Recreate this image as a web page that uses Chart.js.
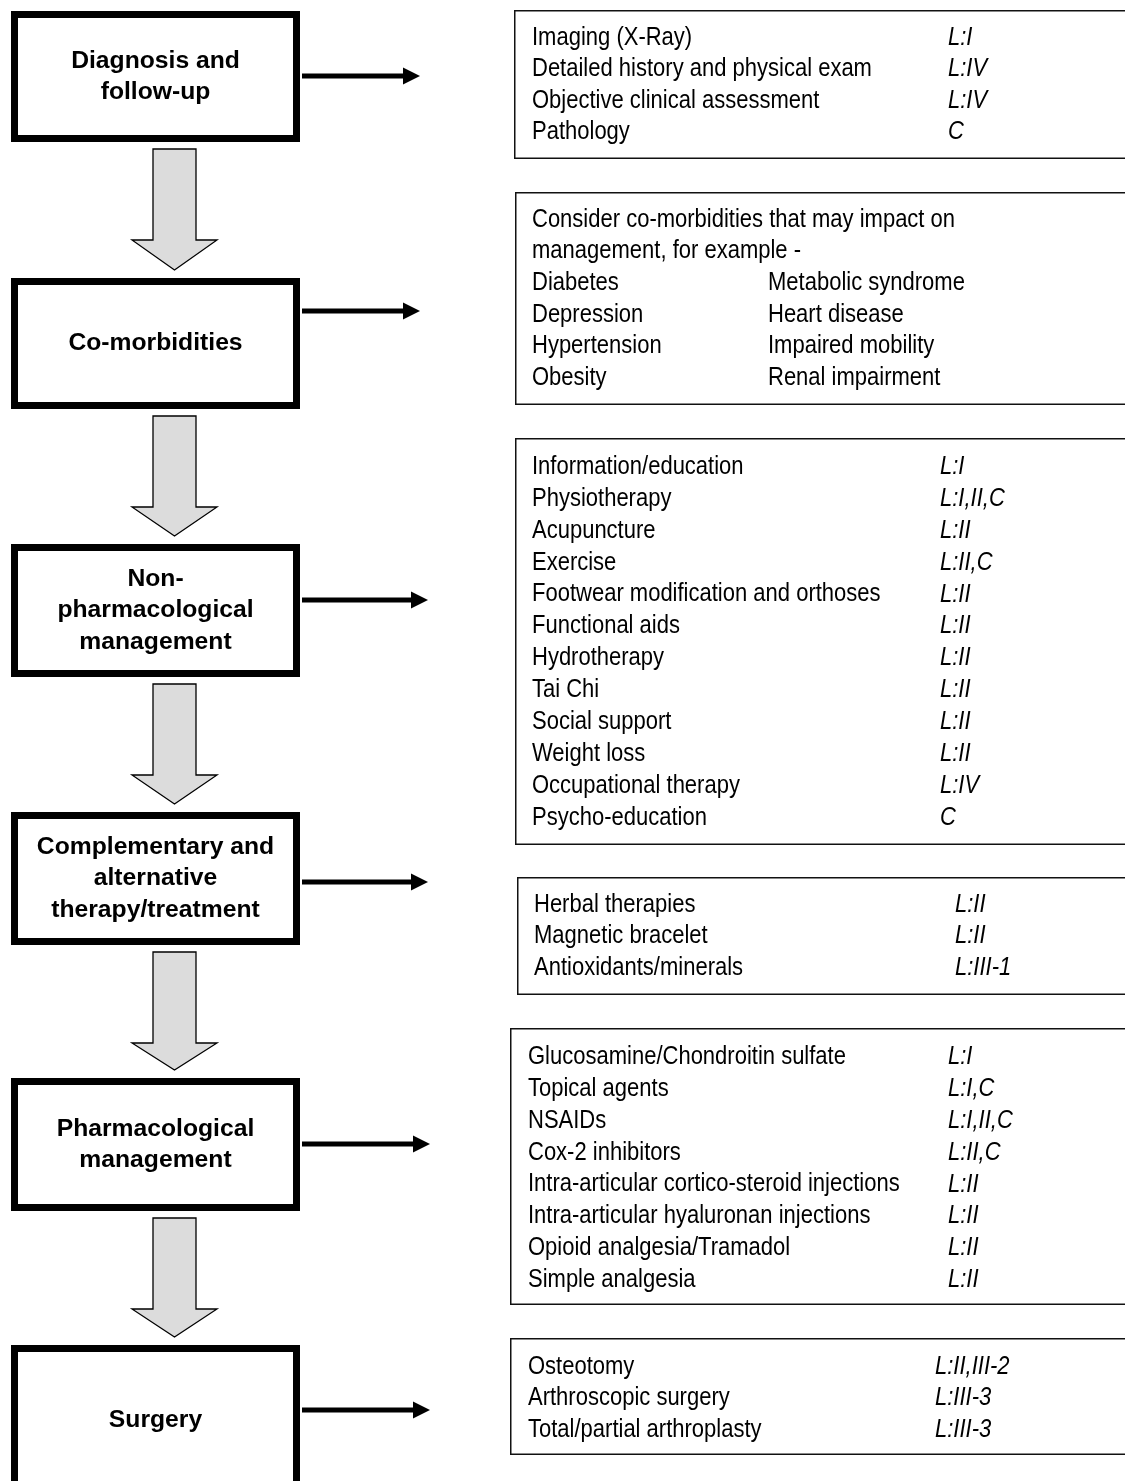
<!DOCTYPE html>
<html>
<head>
<meta charset="utf-8">
<script src="https://cdn.jsdelivr.net/npm/chart.js@4/dist/chart.umd.min.js"></script>
<style>
  html, body { margin: 0; padding: 0; background: #fff; }
  canvas { display: block; }
</style>
</head>
<body>
<canvas id="flow" width="1125" height="1481"></canvas>
<script>
// steps down the left side
var stepLabels = [
    ['Diagnosis and', 'follow-up'],
    ['Co-morbidities'],
    ['Non-', 'pharmacological', 'management'],
    ['Complementary and', 'alternative', 'therapy/treatment'],
    ['Pharmacological', 'management'],
    ['Surgery']
];

// what goes in each box on the right, with level of evidence
var diagnosisItems = ['Imaging (X-Ray)', 'Detailed history and physical exam', 'Objective clinical assessment', 'Pathology'];
var diagnosisLevels = ['L:I', 'L:IV', 'L:IV', 'C'];

var comorbidIntro = ['Consider co-morbidities that may impact on', 'management, for example -'];
var comorbidLeft = ['Diabetes', 'Depression', 'Hypertension', 'Obesity'];
var comorbidRight = ['Metabolic syndrome', 'Heart disease', 'Impaired mobility', 'Renal impairment'];

var nonPharmItems = ['Information/education', 'Physiotherapy', 'Acupuncture', 'Exercise',
    'Footwear modification and orthoses', 'Functional aids', 'Hydrotherapy', 'Tai Chi',
    'Social support', 'Weight loss', 'Occupational therapy', 'Psycho-education'];
var nonPharmLevels = ['L:I', 'L:I,II,C', 'L:II', 'L:II,C', 'L:II', 'L:II', 'L:II', 'L:II', 'L:II', 'L:II', 'L:IV', 'C'];

var camItems = ['Herbal therapies', 'Magnetic bracelet', 'Antioxidants/minerals'];
var camLevels = ['L:II', 'L:II', 'L:III-1'];

var pharmItems = ['Glucosamine/Chondroitin sulfate', 'Topical agents', 'NSAIDs', 'Cox-2 inhibitors',
    'Intra-articular cortico-steroid injections', 'Intra-articular hyaluronan injections',
    'Opioid analgesia/Tramadol', 'Simple analgesia'];
var pharmLevels = ['L:I', 'L:I,C', 'L:I,II,C', 'L:II,C', 'L:II', 'L:II', 'L:II', 'L:II'];

var surgeryItems = ['Osteotomy', 'Arthroscopic surgery', 'Total/partial arthroplasty'];
var surgeryLevels = ['L:II,III-2', 'L:III-3', 'L:III-3'];

// layout (page units, the chart axes run 0..1125 and 0..1481)
var stepTop = [11, 278, 544, 812, 1078, 1345];
var stepBottom = [142, 409, 677, 945, 1211, 1495];
var stepLeft = 11, stepRight = 300;
var arrowY = [76, 311, 600, 882, 1144, 1410];
var arrowTip = [420, 420, 428, 428, 430, 430];

var panels = [
    {top: 10, bottom: 159, left: 514, textX: 532, levelX: 948, firstY: 38, gap: 31.5, items: diagnosisItems, levels: diagnosisLevels},
    {top: 192, bottom: 405, left: 515, textX: 532, col2X: 768, firstY: 220, gap: 31.6},
    {top: 438, bottom: 845, left: 515, textX: 532, levelX: 940, firstY: 467, gap: 31.9, items: nonPharmItems, levels: nonPharmLevels},
    {top: 877, bottom: 995, left: 517, textX: 534, levelX: 955, firstY: 905, gap: 31.5, items: camItems, levels: camLevels},
    {top: 1028, bottom: 1305, left: 510, textX: 528, levelX: 948, firstY: 1057, gap: 31.9, items: pharmItems, levels: pharmLevels},
    {top: 1338, bottom: 1455, left: 510, textX: 528, levelX: 935, firstY: 1367, gap: 31.5, items: surgeryItems, levels: surgeryLevels}
];

var FONT = '"Liberation Sans", Arial, sans-serif';
var SQUEEZE = 0.88; // body text in the original is a bit narrow

function squeezedText(ctx, txt, x, y) {
    ctx.save();
    ctx.translate(x, y);
    ctx.scale(SQUEEZE, 1);
    ctx.fillText(txt, 0, 0);
    ctx.restore();
}

var flowPlugin = {
    id: 'flow',
    afterDraw: function(chart) {
        var ctx = chart.ctx;
        var sx = chart.scales.x, sy = chart.scales.y;
        var X = function(v) { return sx.getPixelForValue(v); };
        var Y = function(v) { return sy.getPixelForValue(v); };

        ctx.save();
        ctx.fillStyle = '#fff';
        ctx.fillRect(0, 0, chart.width, chart.height);

        // left boxes
        ctx.strokeStyle = '#000';
        ctx.lineWidth = 7;
        for (var i = 0; i < stepLabels.length; i++) {
            var l = X(stepLeft) + 3.5, t = Y(stepTop[i]) + 3.5;
            var r = X(stepRight) - 3.5, b = Y(stepBottom[i]) - 3.5;
            ctx.strokeRect(l, t, r - l, b - t);

            ctx.fillStyle = '#000';
            ctx.font = 'bold 24.7px ' + FONT;
            ctx.textAlign = 'center';
            ctx.textBaseline = 'middle';
            var lines = stepLabels[i];
            var mid = (Y(stepTop[i]) + Y(stepBottom[i])) / 2;
            var lh = 31.5;
            for (var k = 0; k < lines.length; k++) {
                var ly = mid + (k - (lines.length - 1) / 2) * lh;
                ctx.fillText(lines[k], X((stepLeft + stepRight) / 2), ly);
            }
        }

        // grey down arrows between the steps
        for (var i = 0; i < stepLabels.length - 1; i++) {
            var top = Y(stepBottom[i] + 7);
            var base = Y(stepBottom[i] + 98);
            var tip = Y(stepTop[i + 1] - 8);
            ctx.beginPath();
            ctx.moveTo(X(153), top);
            ctx.lineTo(X(196), top);
            ctx.lineTo(X(196), base);
            ctx.lineTo(X(217), base);
            ctx.lineTo(X(174.5), tip);
            ctx.lineTo(X(132), base);
            ctx.lineTo(X(153), base);
            ctx.closePath();
            ctx.fillStyle = '#dcdcdc';
            ctx.fill();
            ctx.lineWidth = 1.3;
            ctx.strokeStyle = '#000';
            ctx.stroke();
        }

        // black arrows to the panels
        for (var i = 0; i < arrowY.length; i++) {
            var ay = Y(arrowY[i]);
            var tx = X(arrowTip[i]);
            ctx.fillStyle = '#000';
            ctx.fillRect(X(302), ay - 2.5, tx - 16 - X(302), 5);
            ctx.beginPath();
            ctx.moveTo(tx - 17, ay - 8.5);
            ctx.lineTo(tx, ay);
            ctx.lineTo(tx - 17, ay + 8.5);
            ctx.closePath();
            ctx.fill();
        }

        // panels on the right
        for (var i = 0; i < panels.length; i++) {
            var p = panels[i];
            ctx.strokeStyle = '#111';
            ctx.lineWidth = 1.5;
            ctx.strokeRect(X(p.left) + 0.75, Y(p.top) + 0.75, X(1135) - X(p.left), Y(p.bottom) - Y(p.top) - 1.5);

            ctx.fillStyle = '#000';
            ctx.textAlign = 'left';
            ctx.textBaseline = 'middle';
            if (p.items) {
                for (var k = 0; k < p.items.length; k++) {
                    var ly = Y(p.firstY + k * p.gap);
                    ctx.font = '25px ' + FONT;
                    squeezedText(ctx, p.items[k], X(p.textX), ly);
                    ctx.font = 'italic 25px ' + FONT;
                    squeezedText(ctx, p.levels[k], X(p.levelX), ly);
                }
            } else {
                ctx.font = '25px ' + FONT;
                var row = 0;
                for (var k = 0; k < comorbidIntro.length; k++, row++) {
                    squeezedText(ctx, comorbidIntro[k], X(p.textX), Y(p.firstY + row * p.gap));
                }
                for (var k = 0; k < comorbidLeft.length; k++, row++) {
                    squeezedText(ctx, comorbidLeft[k], X(p.textX), Y(p.firstY + row * p.gap));
                    squeezedText(ctx, comorbidRight[k], X(p.col2X), Y(p.firstY + row * p.gap));
                }
            }
        }
        ctx.restore();
    }
};

// one invisible point per step so the chart has its scales set up from the data
var stepPoints = stepLabels.map(function(s, i) {
    return {x: (stepLeft + stepRight) / 2, y: (stepTop[i] + stepBottom[i]) / 2};
});

new Chart(document.getElementById('flow').getContext('2d'), {
    type: 'scatter',
    data: {
        datasets: [{ data: stepPoints, pointRadius: 0, showLine: false }]
    },
    options: {
        responsive: false,
        animation: false,
        devicePixelRatio: 1,
        layout: { padding: 0 },
        events: [],
        plugins: { legend: { display: false }, tooltip: { enabled: false } },
        scales: {
            x: { type: 'linear', min: 0, max: 1125, display: false },
            y: { type: 'linear', min: 0, max: 1481, reverse: true, display: false }
        }
    },
    plugins: [flowPlugin]
});
</script>
</body>
</html>
